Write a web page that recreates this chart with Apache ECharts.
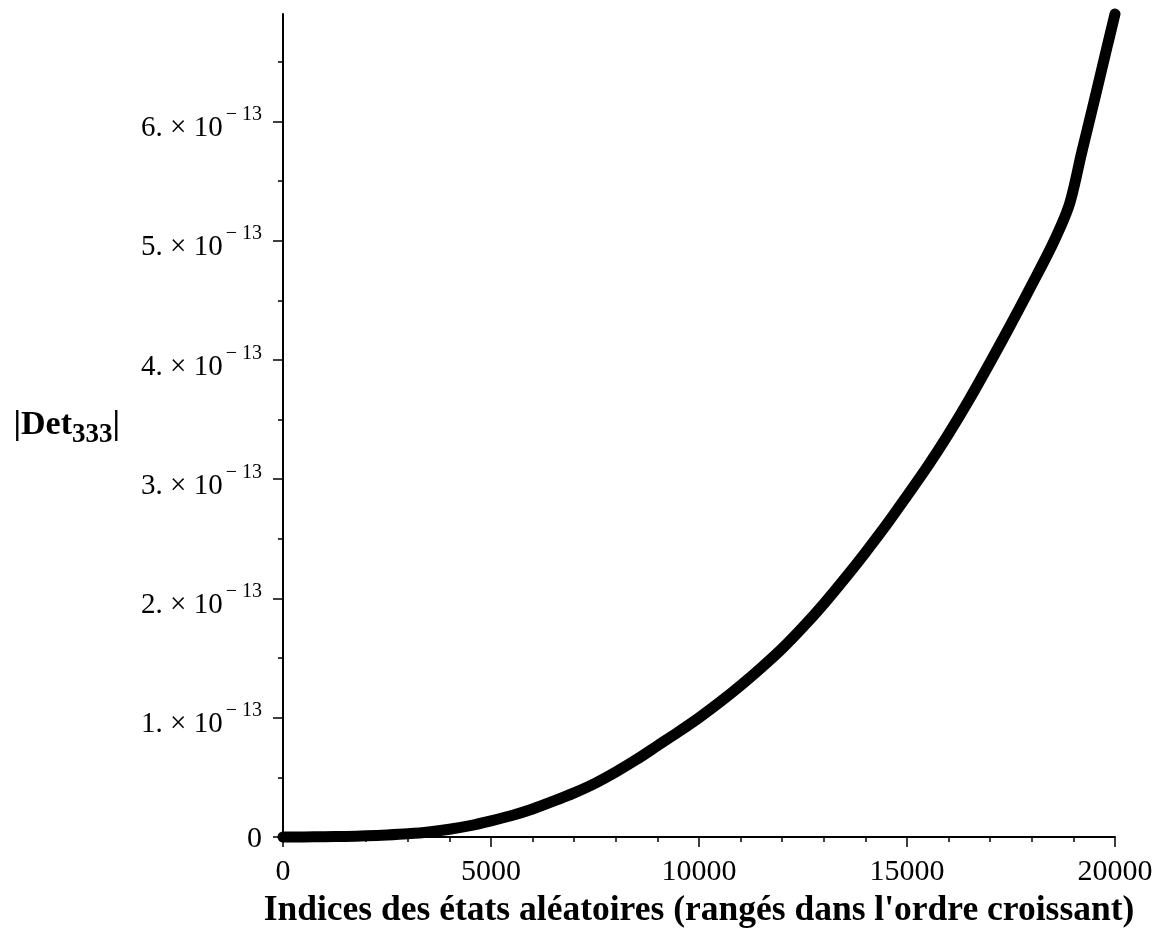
<!DOCTYPE html>
<html>
<head>
<meta charset="utf-8">
<title>|Det333|</title>
<script src="https://cdn.jsdelivr.net/npm/echarts@6/dist/echarts.min.js"></script>
<style>
  html, body { margin: 0; padding: 0; background: #fff; }
  #chart { width: 1161px; height: 934px; }
</style>
</head>
<body>
<div id="chart"></div>
<script>
// Indices of the random states (sorted in increasing order)
const stateIndex = [
  0, 500, 1000, 1500, 2000, 2500, 3000, 3500, 4000, 4500,
  5000, 5500, 6000, 6500, 7000, 7500, 8000, 8500, 9000, 9500,
  10000, 10500, 11000, 11500, 12000, 12500, 13000, 13500, 14000, 14500,
  15000, 15500, 16000, 16500, 17000, 17500, 18000, 18500, 18900,
  19200, 19500, 19800, 20000
];
// |Det333| for each state, in units of 1e-13
const detAbs = [
  0, 0.0005, 0.002, 0.005, 0.010, 0.017, 0.027, 0.042, 0.065, 0.095,
  0.135, 0.180, 0.235, 0.300, 0.370, 0.450, 0.545, 0.650, 0.765, 0.880,
  1.000, 1.130, 1.270, 1.420, 1.580, 1.760, 1.955, 2.165, 2.385, 2.615,
  2.860, 3.110, 3.380, 3.670, 3.980, 4.300, 4.630, 4.970, 5.300,
  5.740, 6.170, 6.610, 6.900
];
// Y tick positions (units of 1e-13)
const yMajorTicks = [0, 1, 2, 3, 4, 5, 6];
const yMinorTicks = [0.5, 1.5, 2.5, 3.5, 4.5, 5.5, 6.5];

const serif = '"Liberation Serif", "DejaVu Serif", serif';

const chart = echarts.init(document.getElementById('chart'), null, { renderer: 'canvas' });

const axisBlack = { color: '#000', width: 2 };

chart.setOption({
  backgroundColor: '#fff',
  animation: false,
  grid: { left: 283, right: 46, top: 14, bottom: 95, containLabel: false },
  xAxis: {
    type: 'value',
    min: 0,
    max: 20000,
    interval: 5000,
    axisLine: { show: true, onZero: false, lineStyle: axisBlack },
    axisTick: { show: true, inside: false, length: 10, lineStyle: { color: '#000', width: 1.5 } },
    minorTick: { show: true, splitNumber: 5, length: 5, lineStyle: { color: '#000', width: 1.5 } },
    splitLine: { show: false },
    axisLabel: {
      margin: 20, color: '#000', fontFamily: serif, fontSize: 30,
      formatter: v => String(v)
    },
    name: "Indices des états aléatoires (rangés dans l'ordre croissant)",
    nameLocation: 'middle',
    nameGap: 56,
    nameTextStyle: { color: '#000', fontFamily: serif, fontSize: 35.5, fontWeight: 'bold' }
  },
  yAxis: [
    {
      type: 'value',
      min: 0,
      max: 'dataMax',
      position: 'left',
      axisLine: { show: true, onZero: false, lineStyle: axisBlack },
      axisTick: { show: true, inside: false, length: 10, customValues: yMajorTicks,
                  lineStyle: { color: '#000', width: 1.5 } },
      splitLine: { show: false },
      axisLabel: {
        margin: 21,
        customValues: yMajorTicks,
        formatter: v => v === 0 ? '{z|0}' : '{m|' + v + '. × 10}{s|− 13}',
        rich: {
          z: { fontFamily: serif, fontSize: 30, color: '#000', padding: [4, 0, 0, 0] },
          m: { fontFamily: serif, fontSize: 29, color: '#000', padding: [14, 0, 0, 0] },
          s: { fontFamily: serif, fontSize: 20, color: '#000', padding: [0, 0, 13, 3] }
        }
      },
      name: '{a||Det}{sub|333}{a||}',
      nameLocation: 'middle',
      nameRotate: 0,
      nameGap: 163,
      nameTextStyle: {
        rich: {
          a: { fontFamily: serif, fontSize: 34, fontWeight: 'bold', color: '#000' },
          sub: { fontFamily: serif, fontSize: 27, fontWeight: 'bold', color: '#000', padding: [20, 0, 0, 0] }
        }
      }
    },
    {
      // minor ticks only
      type: 'value',
      min: 0,
      max: 'dataMax',
      position: 'left',
      axisLine: { show: false },
      axisTick: { show: true, inside: false, length: 5, customValues: yMinorTicks,
                  lineStyle: { color: '#000', width: 1.5 } },
      axisLabel: { show: false },
      splitLine: { show: false }
    }
  ],
  series: [
    {
      type: 'line',
      yAxisIndex: 0,
      data: stateIndex.map((x, i) => [x, detAbs[i]]),
      showSymbol: false,
      smooth: 0.3,
      clip: false,
      lineStyle: { color: '#000', width: 11, cap: 'round', join: 'round' }
    },
    {
      type: 'line',
      yAxisIndex: 1,
      data: [[0, 0], [20000, 6.9]],
      showSymbol: false,
      lineStyle: { opacity: 0 },
      silent: true
    }
  ]
});
</script>
</body>
</html>
